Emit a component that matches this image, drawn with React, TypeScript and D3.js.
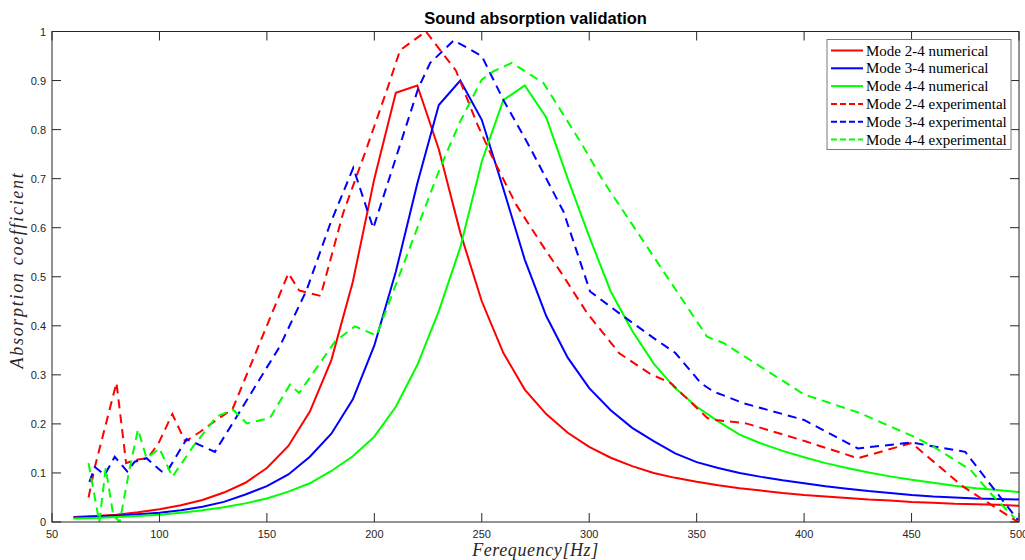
import React, { useRef, useEffect } from "react";
import * as d3 from "d3";

// numerical curves, 10 Hz steps
const freqNum = [
  60, 70, 80, 90, 100, 110, 120, 130, 140, 150, 160, 170, 180, 190, 200, 210,
  220, 230, 240, 250, 260, 270, 280, 290, 300, 310, 320, 330, 340, 350, 360,
  370, 380, 390, 400, 410, 420, 430, 440, 450, 460, 470, 480, 490, 500,
];
const num24 = [
  0.01, 0.012, 0.015, 0.02, 0.026, 0.034, 0.045, 0.06, 0.08, 0.11, 0.155,
  0.225, 0.33, 0.49, 0.7, 0.875, 0.89, 0.76, 0.59, 0.45, 0.345, 0.27, 0.22,
  0.182, 0.153, 0.131, 0.114, 0.1, 0.09, 0.082, 0.075, 0.069, 0.064, 0.059,
  0.055, 0.052, 0.049, 0.046, 0.044, 0.041, 0.039, 0.037, 0.036, 0.035, 0.033,
];
const num34 = [
  0.009, 0.011, 0.013, 0.016, 0.019, 0.024, 0.031, 0.041, 0.056, 0.073, 0.097,
  0.133, 0.18, 0.25, 0.36, 0.51, 0.69, 0.85, 0.9, 0.82, 0.68, 0.535, 0.42,
  0.335, 0.273, 0.228, 0.192, 0.165, 0.14, 0.122, 0.11, 0.1, 0.092, 0.085,
  0.079, 0.073, 0.068, 0.063, 0.059, 0.055, 0.052, 0.05, 0.048, 0.047, 0.046,
];
const num44 = [
  0.007, 0.008, 0.01, 0.012, 0.015, 0.019, 0.024, 0.03, 0.038, 0.048, 0.062,
  0.079, 0.104, 0.134, 0.174, 0.235, 0.32, 0.43, 0.56, 0.735, 0.86, 0.89,
  0.825, 0.7, 0.582, 0.47, 0.39, 0.323, 0.273, 0.235, 0.205, 0.178, 0.16,
  0.145, 0.132, 0.12, 0.11, 0.101, 0.093, 0.086, 0.08, 0.074, 0.069, 0.065,
  0.061,
];

// experimental curves, [Hz, alpha]
const exp24 = [
  [67, 0.05], [70, 0.113], [80, 0.284], [84.5, 0.12], [89, 0.127], [94.5, 0.13],
  [99.5, 0.16], [106, 0.22], [112, 0.164], [119, 0.184], [126.5, 0.208],
  [134, 0.23], [160, 0.507], [165, 0.472], [175, 0.461], [185.5, 0.63],
  [195.7, 0.753], [205.8, 0.88], [212, 0.962], [224, 1.0], [238, 0.92],
  [248, 0.81], [255, 0.743], [266, 0.647], [280, 0.552], [287, 0.508],
  [299, 0.426], [314, 0.344], [328, 0.303], [338, 0.283], [355, 0.212],
  [359, 0.208], [373, 0.201], [401, 0.164], [425, 0.13], [450, 0.161],
  [474, 0.072], [499.5, 0.0],
];
const exp34 = [
  [67.4, 0.082], [70, 0.112], [74.5, 0.096], [79.2, 0.133], [85, 0.103],
  [88.5, 0.123], [94, 0.13], [101, 0.103], [104, 0.106], [112.6, 0.169],
  [125.8, 0.143], [135, 0.208], [156, 0.358], [168.5, 0.473], [179.3, 0.606],
  [190.2, 0.722], [199.5, 0.599], [220.5, 0.885], [226, 0.936], [237, 0.982],
  [250, 0.95], [260, 0.861], [272.5, 0.763], [288, 0.633], [300.4, 0.47],
  [316, 0.419], [330, 0.375], [340, 0.345], [352, 0.283], [357.8, 0.266],
  [372, 0.242], [400, 0.208], [425, 0.15], [450, 0.162], [475, 0.143],
  [499.5, 0.004],
];
const exp44 = [
  [67, 0.12], [72, 0.0], [75, 0.11], [78.5, 0.014], [81.5, 0.0], [86, 0.106],
  [90, 0.189], [94, 0.13], [100, 0.15], [106, 0.092], [115.7, 0.154],
  [126.6, 0.215], [134.3, 0.229], [140.6, 0.201], [151.4, 0.212],
  [160.7, 0.28], [165, 0.263], [181.7, 0.368], [191, 0.399], [201, 0.38],
  [230.6, 0.722], [240, 0.817], [250, 0.902], [255.5, 0.919], [264, 0.936],
  [278.7, 0.895], [295.8, 0.776], [306.7, 0.694], [354.8, 0.378],
  [362.5, 0.365], [400, 0.26], [426, 0.222], [451, 0.174], [460, 0.154],
  [477.5, 0.106], [487.5, 0.055], [498, 0.008],
];

const xTicks = [50, 100, 150, 200, 250, 300, 350, 400, 450, 500];
const yTicks = [0, 0.1, 0.2, 0.3, 0.4, 0.5, 0.6, 0.7, 0.8, 0.9, 1];

const series = [
  { name: "Mode 2-4 numerical", color: "#ff0000", dashed: false, pts: freqNum.map((f, i) => [f, num24[i]]) },
  { name: "Mode 3-4 numerical", color: "#0000ff", dashed: false, pts: freqNum.map((f, i) => [f, num34[i]]) },
  { name: "Mode 4-4 numerical", color: "#00ff00", dashed: false, pts: freqNum.map((f, i) => [f, num44[i]]) },
  { name: "Mode 2-4 experimental", color: "#ff0000", dashed: true, pts: exp24 },
  { name: "Mode 3-4 experimental", color: "#0000ff", dashed: true, pts: exp34 },
  { name: "Mode 4-4 experimental", color: "#00ff00", dashed: true, pts: exp44 },
];

const App = () => {
  const svgRef = useRef(null);

  useEffect(() => {
    const width = 1025;
    const height = 560;
    const m = { left: 52, right: 1019, top: 31.5, bottom: 522 };
    const axisColor = "#262626";
    const dash = "9,6";

    const svg = d3.select(svgRef.current);
    svg.attr("width", width).attr("height", height);
    svg.selectAll("*").remove();

    const x = d3.scaleLinear().domain([50, 500]).range([m.left, m.right]);
    const y = d3.scaleLinear().domain([0, 1]).range([m.bottom, m.top]);

    svg.append("rect").attr("width", width).attr("height", height).attr("fill", "#fff");

    svg.append("defs").append("clipPath").attr("id", "plotClip")
      .append("rect")
      .attr("x", m.left).attr("y", m.top - 2)
      .attr("width", m.right - m.left).attr("height", m.bottom - m.top + 2);

    const line = d3.line().x((d) => x(d[0])).y((d) => y(d[1]));

    const plot = svg.append("g").attr("clip-path", "url(#plotClip)");
    series.forEach((s) => {
      plot.append("path")
        .attr("d", line(s.pts))
        .attr("fill", "none")
        .attr("stroke", s.color)
        .attr("stroke-width", 2)
        .attr("stroke-dasharray", s.dashed ? dash : null);
    });

    // axes box + inner ticks
    const ax = svg.append("g").attr("stroke", axisColor).attr("stroke-width", 1);
    ax.append("rect")
      .attr("x", m.left).attr("y", m.top)
      .attr("width", m.right - m.left).attr("height", m.bottom - m.top)
      .attr("fill", "none");
    const tl = 9;
    xTicks.forEach((t) => {
      ax.append("line").attr("x1", x(t)).attr("x2", x(t)).attr("y1", m.bottom).attr("y2", m.bottom - tl);
      ax.append("line").attr("x1", x(t)).attr("x2", x(t)).attr("y1", m.top).attr("y2", m.top + tl);
    });
    yTicks.forEach((t) => {
      ax.append("line").attr("x1", m.left).attr("x2", m.left + tl).attr("y1", y(t)).attr("y2", y(t));
      ax.append("line").attr("x1", m.right).attr("x2", m.right - tl).attr("y1", y(t)).attr("y2", y(t));
    });

    const tickFont = "'Liberation Sans', Arial, sans-serif";
    svg.append("g").selectAll("text").data(xTicks).enter().append("text")
      .attr("x", (d) => x(d)).attr("y", m.bottom + 16)
      .attr("text-anchor", "middle")
      .attr("font-family", tickFont).attr("font-size", 11).attr("fill", axisColor)
      .text((d) => d);
    svg.append("g").selectAll("text").data(yTicks).enter().append("text")
      .attr("x", m.left - 6).attr("y", (d) => y(d) + 4)
      .attr("text-anchor", "end")
      .attr("font-family", tickFont).attr("font-size", 11).attr("fill", axisColor)
      .text((d) => d3.format("~g")(d));

    // title and axis labels
    svg.append("text")
      .attr("x", (m.left + m.right) / 2).attr("y", 24)
      .attr("text-anchor", "middle")
      .attr("font-family", tickFont).attr("font-size", 16.5).attr("font-weight", "bold")
      .attr("fill", "#000")
      .text("Sound absorption validation");

    const labelFont = "'Liberation Serif', 'Times New Roman', serif";
    svg.append("text")
      .attr("x", (m.left + m.right) / 2).attr("y", 556)
      .attr("text-anchor", "middle")
      .attr("font-family", labelFont).attr("font-size", 18).attr("font-style", "italic")
      .attr("letter-spacing", 0.6).attr("fill", axisColor)
      .text("Ferequency[Hz]");
    svg.append("text")
      .attr("transform", `translate(23, 270) rotate(-90)`)
      .attr("text-anchor", "middle")
      .attr("font-family", labelFont).attr("font-size", 18).attr("font-style", "italic")
      .attr("letter-spacing", 1.7).attr("fill", axisColor)
      .text("Absorption coefficient");

    // legend
    const lg = svg.append("g");
    lg.append("rect")
      .attr("x", 827).attr("y", 39.5).attr("width", 184).attr("height", 110)
      .attr("fill", "#fff").attr("stroke", "#7a7a7a").attr("stroke-width", 1);
    series.forEach((s, i) => {
      const yy = 50.5 + i * 17.8;
      lg.append("line")
        .attr("x1", 831).attr("x2", 863).attr("y1", yy).attr("y2", yy)
        .attr("stroke", s.color).attr("stroke-width", 2)
        .attr("stroke-dasharray", s.dashed ? "6,3" : null);
      lg.append("text")
        .attr("x", 866).attr("y", yy + 5)
        .attr("font-family", labelFont).attr("font-size", 15).attr("fill", "#000")
        .text(s.name);
    });
  }, []);

  return <svg ref={svgRef} style={{ position: "absolute", left: 0, top: 0 }} />;
};

export default App;
